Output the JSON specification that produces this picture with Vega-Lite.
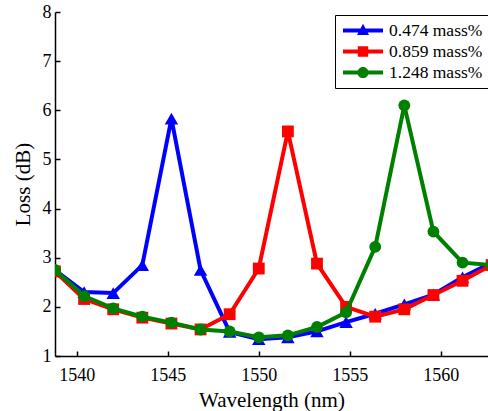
{
  "$schema": "https://vega.github.io/schema/vega-lite/v6.json",
  "autosize": {"type": "none"},
  "width": 433,
  "height": 344,
  "padding": {"left": 55, "top": 12, "right": 0, "bottom": 55},
  "background": "white",
  "config": {
    "view": {"stroke": null},
    "font": "Liberation Serif",
    "axis": {
      "grid": false,
      "domainColor": "black",
      "domainWidth": 1.5,
      "tickColor": "black",
      "tickWidth": 1.5,
      "labelColor": "black",
      "titleColor": "black",
      "labelFont": "Liberation Serif",
      "titleFont": "Liberation Serif",
      "labelFontSize": 18,
      "titleFontSize": 21,
      "titleFontWeight": "normal"
    },
    "legend": {
      "labelFont": "Liberation Serif",
      "labelFontSize": 17.5,
      "labelColor": "black"
    }
  },
  "data": {
    "values": [
      {"series": "0.474 mass%", "wl": 1538.8, "loss": 2.75},
      {"series": "0.474 mass%", "wl": 1540.4, "loss": 2.30},
      {"series": "0.474 mass%", "wl": 1542.0, "loss": 2.28},
      {"series": "0.474 mass%", "wl": 1543.6, "loss": 2.85},
      {"series": "0.474 mass%", "wl": 1545.2, "loss": 5.83},
      {"series": "0.474 mass%", "wl": 1546.8, "loss": 2.75},
      {"series": "0.474 mass%", "wl": 1548.4, "loss": 1.49},
      {"series": "0.474 mass%", "wl": 1550.0, "loss": 1.34},
      {"series": "0.474 mass%", "wl": 1551.6, "loss": 1.38},
      {"series": "0.474 mass%", "wl": 1553.2, "loss": 1.50},
      {"series": "0.474 mass%", "wl": 1554.8, "loss": 1.69},
      {"series": "0.474 mass%", "wl": 1556.4, "loss": 1.86},
      {"series": "0.474 mass%", "wl": 1558.0, "loss": 2.05},
      {"series": "0.474 mass%", "wl": 1559.6, "loss": 2.25},
      {"series": "0.474 mass%", "wl": 1561.2, "loss": 2.60},
      {"series": "0.474 mass%", "wl": 1562.8, "loss": 2.90},
      {"series": "0.859 mass%", "wl": 1538.8, "loss": 2.72},
      {"series": "0.859 mass%", "wl": 1540.4, "loss": 2.16},
      {"series": "0.859 mass%", "wl": 1542.0, "loss": 1.95},
      {"series": "0.859 mass%", "wl": 1543.6, "loss": 1.78},
      {"series": "0.859 mass%", "wl": 1545.2, "loss": 1.66},
      {"series": "0.859 mass%", "wl": 1546.8, "loss": 1.54},
      {"series": "0.859 mass%", "wl": 1548.4, "loss": 1.85},
      {"series": "0.859 mass%", "wl": 1550.0, "loss": 2.78},
      {"series": "0.859 mass%", "wl": 1551.6, "loss": 5.57},
      {"series": "0.859 mass%", "wl": 1553.2, "loss": 2.88},
      {"series": "0.859 mass%", "wl": 1554.8, "loss": 2.00},
      {"series": "0.859 mass%", "wl": 1556.4, "loss": 1.80},
      {"series": "0.859 mass%", "wl": 1558.0, "loss": 1.95},
      {"series": "0.859 mass%", "wl": 1559.6, "loss": 2.24},
      {"series": "0.859 mass%", "wl": 1561.2, "loss": 2.53},
      {"series": "0.859 mass%", "wl": 1562.8, "loss": 2.85},
      {"series": "1.248 mass%", "wl": 1538.8, "loss": 2.75},
      {"series": "1.248 mass%", "wl": 1540.4, "loss": 2.22},
      {"series": "1.248 mass%", "wl": 1542.0, "loss": 1.97},
      {"series": "1.248 mass%", "wl": 1543.6, "loss": 1.80},
      {"series": "1.248 mass%", "wl": 1545.2, "loss": 1.68},
      {"series": "1.248 mass%", "wl": 1546.8, "loss": 1.54},
      {"series": "1.248 mass%", "wl": 1548.4, "loss": 1.50},
      {"series": "1.248 mass%", "wl": 1550.0, "loss": 1.38},
      {"series": "1.248 mass%", "wl": 1551.6, "loss": 1.42},
      {"series": "1.248 mass%", "wl": 1553.2, "loss": 1.59},
      {"series": "1.248 mass%", "wl": 1554.8, "loss": 1.89},
      {"series": "1.248 mass%", "wl": 1556.4, "loss": 3.22},
      {"series": "1.248 mass%", "wl": 1558.0, "loss": 6.10},
      {"series": "1.248 mass%", "wl": 1559.6, "loss": 3.53},
      {"series": "1.248 mass%", "wl": 1561.2, "loss": 2.90},
      {"series": "1.248 mass%", "wl": 1562.8, "loss": 2.85}
    ]
  },
  "encoding": {
    "x": {
      "field": "wl", "type": "quantitative",
      "scale": {"domain": [1538.8, 1562.6], "nice": false, "zero": false},
      "axis": {"title": "Wavelength (nm)", "values": [1540, 1545, 1550, 1555, 1560], "format": "d", "tickSize": -5, "labelPadding": 15, "titlePadding": 5, "labelFlush": false}
    },
    "y": {
      "field": "loss", "type": "quantitative",
      "scale": {"domain": [1, 8], "nice": false, "zero": false},
      "axis": {"title": "Loss (dB)", "values": [1, 2, 3, 4, 5, 6, 7, 8], "tickSize": -5, "labelPadding": 9, "titlePadding": 9, "labelFlush": false}
    }
  },
  "layer": [
    {
      "transform": [{"filter": "datum.series === '0.474 mass%'"}],
      "mark": {"type": "line", "color": "#0000ff", "strokeWidth": 4, "clip": true}
    },
    {
      "transform": [{"filter": "datum.series === '0.474 mass%'"}],
      "mark": {"type": "point", "shape": "triangle-up", "filled": true, "opacity": 1, "color": "#0000ff", "size": 180, "clip": true}
    },
    {
      "transform": [{"filter": "datum.series === '0.859 mass%'"}],
      "mark": {"type": "line", "color": "#ff0000", "strokeWidth": 4, "clip": true}
    },
    {
      "transform": [{"filter": "datum.series === '0.859 mass%'"}],
      "mark": {"type": "point", "shape": "square", "filled": true, "opacity": 1, "color": "#ff0000", "size": 140, "clip": true}
    },
    {
      "transform": [{"filter": "datum.series === '1.248 mass%'"}],
      "mark": {"type": "line", "color": "#008000", "strokeWidth": 4, "clip": true}
    },
    {
      "transform": [{"filter": "datum.series === '1.248 mass%'"}],
      "mark": {"type": "point", "shape": "circle", "filled": true, "opacity": 1, "color": "#008000", "size": 140, "clip": true}
    },
    {
      "transform": [{"filter": "datum.wl < 0"}],
      "mark": {"type": "point", "filled": true, "opacity": 1, "clip": true},
      "encoding": {
        "color": {
          "field": "series", "type": "nominal",
          "scale": {"domain": ["0.474 mass%", "0.859 mass%", "1.248 mass%"], "range": ["#0000ff", "#ff0000", "#008000"]},
          "legend": {
            "title": null,
            "orient": "none",
            "legendX": 280,
            "legendY": 3,
            "padding": 5,
            "strokeColor": "black",
            "fillColor": "white",
            "symbolSize": 1600,
            "symbolStrokeWidth": 0,
            "symbolOffset": 3,
            "clipHeight": 21,
            "rowPadding": 0,
            "labelOffset": 6,
            "cornerRadius": 0
          }
        },
        "shape": {
          "field": "series", "type": "nominal",
          "scale": {
            "domain": ["0.474 mass%", "0.859 mass%", "1.248 mass%"],
            "range": [
              "M-1,-0.1L1,-0.1L1,0.1L-1,0.1Z M0,-0.34L0.3,0.22L-0.3,0.22Z",
              "M-1,-0.1L1,-0.1L1,0.1L-1,0.1Z M-0.26,-0.26L0.26,-0.26L0.26,0.26L-0.26,0.26Z",
              "M-1,-0.1L1,-0.1L1,0.1L-1,0.1Z M-0.28,0A0.28,0.28 0 1,1 0.28,0A0.28,0.28 0 1,1 -0.28,0Z"
            ]
          },
          "legend": {
            "title": null,
            "orient": "none",
            "legendX": 280,
            "legendY": 3,
            "padding": 5,
            "strokeColor": "black",
            "fillColor": "white",
            "symbolSize": 1600,
            "symbolStrokeWidth": 0,
            "symbolOffset": 3,
            "clipHeight": 21,
            "rowPadding": 0,
            "labelOffset": 6,
            "cornerRadius": 0
          }
        }
      }
    }
  ]
}
